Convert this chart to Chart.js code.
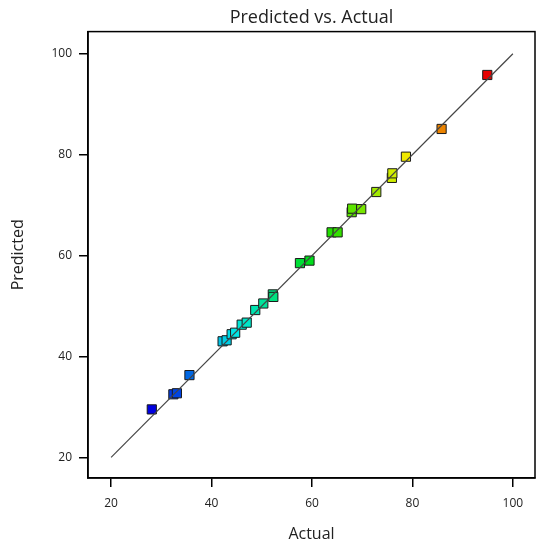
<!DOCTYPE html>
<html><head><meta charset="utf-8">
<script src="https://cdn.jsdelivr.net/npm/chart.js@4/dist/chart.umd.min.js"></script>
<style>html,body{margin:0;padding:0;background:#fff}</style>
</head><body>
<canvas id="c" width="548" height="550"></canvas>
<script>
const actual    = [28.1, 32.4, 33.1, 35.6, 42.2, 43.0, 44.0, 44.7, 46.0, 47.0, 48.7, 50.3, 52.2, 52.3, 57.6, 59.5, 63.9, 65.1, 67.9, 68.0, 69.8, 72.8, 75.9, 76.0, 78.7, 85.8, 94.9];
const predicted = [29.5, 32.5, 32.7, 36.3, 43.0, 43.2, 44.4, 44.7, 46.3, 46.7, 49.2, 50.5, 52.3, 51.8, 58.5, 59.0, 64.6, 64.6, 68.6, 69.3, 69.2, 72.6, 75.4, 76.3, 79.6, 85.1, 95.8];
const refLineX = [20, 100];
const refLineY = [20, 100];
const xTicks = [20, 40, 60, 80, 100];
const yTicks = [20, 40, 60, 80, 100];
const titleText = 'Predicted vs. Actual';
const xTitle = 'Actual';
const yTitle = 'Predicted';

function jet(v, lo, hi) {
  const t = Math.max(0, Math.min(1, (v - lo) / (hi - lo)));
  const stops = [[0,0,225],[0,230,230],[0,220,0],[240,240,0],[230,0,0]];
  const p = t * 4, i = Math.min(3, Math.floor(p)), f = p - i;
  const a = stops[i], b = stops[i+1];
  return 'rgb(' + a.map((c, k) => Math.round(c + (b[k]-c)*f)).join(',') + ')';
}
const lo = Math.min(...actual), hi = Math.max(...actual);
const pointColors = actual.map(v => jet(v, lo, hi));

const framePlugin = {
  id: 'frame',
  afterDraw(chart) {
    const {ctx, chartArea: a} = chart;
    ctx.save();
    ctx.strokeStyle = '#000';
    ctx.lineWidth = 1.5;
    ctx.strokeRect(a.left, a.top, a.right - a.left, a.bottom - a.top);
    ctx.restore();
  }
};

const font = "'Open Sans', 'Noto Sans', sans-serif";
new Chart(document.getElementById('c'), {
  type: 'scatter',
  data: {
    datasets: [
      {
        type: 'line',
        data: refLineX.map((x, i) => ({x, y: refLineY[i]})),
        borderColor: '#444',
        borderWidth: 1.2,
        pointRadius: 0,
        fill: false
      },
      {
        data: actual.map((x, i) => ({x, y: predicted[i]})),
        pointStyle: 'rect',
        pointRadius: 6.5,
        pointBackgroundColor: pointColors,
        pointBorderColor: '#1a1a1a',
        pointBorderWidth: 1
      }
    ]
  },
  options: {
    responsive: false,
    animation: false,
    devicePixelRatio: 1,
    layout: {padding: {top: 0, right: 13, bottom: 0, left: 0}},
    plugins: {
      legend: {display: false},
      tooltip: {enabled: false},
      title: {
        display: true, text: titleText, fullSize: false,
        color: '#222', font: {family: font, size: 18, weight: 'normal'},
        padding: {top: 7, bottom: 3}
      }
    },
    scales: {
      x: {
        type: 'linear', min: 15.4, max: 104.4,
        afterFit: s => { s.height = 72; },
        afterBuildTicks: s => { s.ticks = xTicks.map(v => ({value: v})); },
        ticks: {color: '#222', font: {family: font, size: 12}, padding: 9, maxRotation: 0},
        grid: {display: true, drawOnChartArea: false, drawTicks: true, tickLength: 9, color: '#000', lineWidth: 1.5},
        border: {display: true, color: '#000', width: 1.5},
        title: {display: true, text: xTitle, color: '#222', font: {family: font, size: 16}, padding: {top: 0, bottom: 6}}
      },
      y: {
        type: 'linear', min: 15.9, max: 104.4,
        afterFit: s => { s.width = 88; },
        afterBuildTicks: s => { s.ticks = yTicks.map(v => ({value: v})); },
        ticks: {color: '#222', font: {family: font, size: 12}, padding: 7},
        grid: {display: true, drawOnChartArea: false, drawTicks: true, tickLength: 9, color: '#000', lineWidth: 1.5},
        border: {display: true, color: '#000', width: 1.5},
        title: {display: true, text: yTitle, color: '#222', font: {family: font, size: 16}, padding: {top: 9, bottom: 0}}
      }
    }
  },
  plugins: [framePlugin]
});
</script>
</body></html>
